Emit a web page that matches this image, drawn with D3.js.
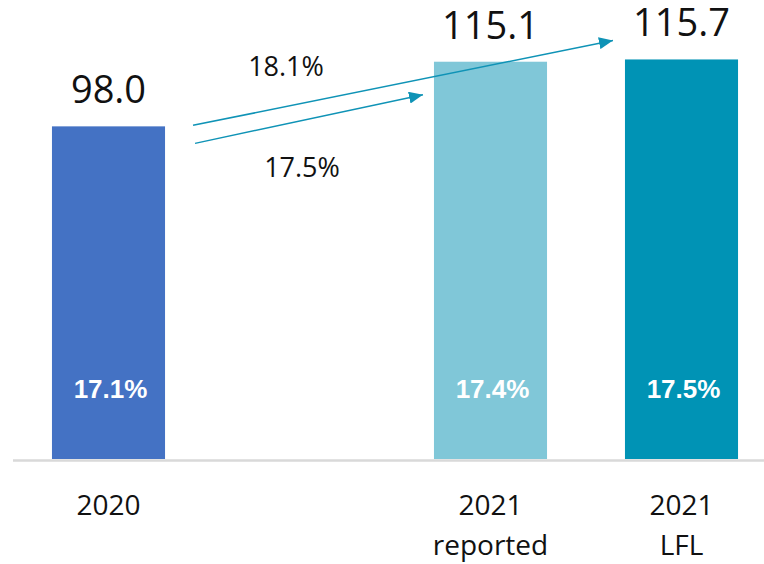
<!DOCTYPE html>
<html lang="en">

<head>
    <meta charset="UTF-8">
    <title>Revenue 2020 vs 2021</title>
    <script src="https://d3js.org/d3.v7.min.js"></script>
    <style>
        body {
            margin: 0;
            overflow: hidden;
            background-color: white;
        }

        .value-label {
            font-family: "Open Sans", sans-serif;
            font-size: 38px;
            fill: #111;
        }

        .cat-label {
            font-family: "Open Sans", sans-serif;
            font-size: 28px;
            fill: #111;
        }

        .margin-label {
            font-family: "Liberation Sans", Arial, sans-serif;
            font-weight: bold;
            font-size: 26px;
            fill: white;
        }

        .growth-label {
            font-family: "Open Sans", sans-serif;
            font-size: 27px;
            fill: #111;
        }
    </style>
</head>

<body>
    <svg id="chart"></svg>

    <script>
        // data
        var categories = ["2020", "gap", "2021 reported", "2021 LFL"];
        var catLines = { "2020": ["2020"], "2021 reported": ["2021", "reported"], "2021 LFL": ["2021", "LFL"] };
        var barCats = ["2020", "2021 reported", "2021 LFL"];
        var values = [98.0, 115.1, 115.7];
        var margins = ["17.1%", "17.4%", "17.5%"];
        var colors = ["#4472c4", "#80c7d8", "#0093b5"];
        // growth arrows: from 2020 to target
        var growthTargets = ["2021 LFL", "2021 reported"];
        var growthLabels = ["18.1%", "17.5%"];

        var width = 764, height = 564;
        var svg = d3.select("#chart").attr("width", width).attr("height", height);

        var x = d3.scaleBand()
            .domain(categories)
            .range([13, 777])
            .paddingInner(0.408)
            .paddingOuter(0.204);

        var y = d3.scaleLinear()
            .domain([10, 120])
            .range([459, 459 - 110 * 3.78]);

        var arrowColor = "#0f93b6";

        svg.append("defs").append("marker")
            .attr("id", "head")
            .attr("markerUnits", "userSpaceOnUse")
            .attr("viewBox", "0 0 14 12")
            .attr("refX", 14)
            .attr("refY", 6)
            .attr("markerWidth", 14)
            .attr("markerHeight", 12)
            .attr("orient", "auto")
            .append("path")
            .attr("d", "M0,0 L14,6 L0,12 Z")
            .attr("fill", arrowColor);

        // baseline
        svg.append("line")
            .attr("x1", 13).attr("x2", width)
            .attr("y1", 460.5).attr("y2", 460.5)
            .attr("stroke", "#d9d9d9")
            .attr("stroke-width", 2.5);

        // bars
        svg.selectAll(".bar")
            .data(values)
            .enter().append("rect")
            .attr("class", "bar")
            .attr("x", function (d, i) { return x(barCats[i]); })
            .attr("width", x.bandwidth())
            .attr("y", function (d) { return y(d); })
            .attr("height", function (d) { return y(10) - y(d); })
            .attr("fill", function (d, i) { return colors[i]; });

        // value labels
        svg.selectAll(".value-label")
            .data(values)
            .enter().append("text")
            .attr("class", "value-label")
            .attr("text-anchor", "middle")
            .attr("x", function (d, i) { return x(barCats[i]) + x.bandwidth() / 2; })
            .attr("y", function (d) { return y(d) - 23; })
            .text(function (d) { return d.toFixed(1); });

        // margin labels inside bars
        svg.selectAll(".margin-label")
            .data(margins)
            .enter().append("text")
            .attr("class", "margin-label")
            .attr("text-anchor", "middle")
            .attr("x", function (d, i) { return x(barCats[i]) + x.bandwidth() / 2 + 2; })
            .attr("y", 398)
            .text(function (d) { return d; });

        // category labels
        barCats.forEach(function (c) {
            var t = svg.append("text")
                .attr("class", "cat-label")
                .attr("text-anchor", "middle")
                .attr("x", x(c) + x.bandwidth() / 2)
                .attr("y", 515);
            catLines[c].forEach(function (line, j) {
                t.append("tspan")
                    .attr("x", x(c) + x.bandwidth() / 2)
                    .attr("dy", j === 0 ? 0 : 40)
                    .text(line);
            });
        });

        // growth arrows
        var startX = x("2020") + x.bandwidth() + 28;
        var arrows = [
            { x1: startX, y1: y(values[0]) - 1, x2: x(growthTargets[0]) - 12, y2: y(values[2]) - 19, lx: 286, ly: 76 },
            { x1: startX + 2, y1: y(values[0]) + 17, x2: x(growthTargets[1]) - 11, y2: y(values[1]) + 33, lx: 302, ly: 177 }
        ];

        svg.selectAll(".arrow")
            .data(arrows)
            .enter().append("line")
            .attr("class", "arrow")
            .attr("x1", function (d) { return d.x1; })
            .attr("y1", function (d) { return d.y1; })
            .attr("x2", function (d) { return d.x2; })
            .attr("y2", function (d) { return d.y2; })
            .attr("stroke", arrowColor)
            .attr("stroke-width", 1.5)
            .attr("marker-end", "url(#head)");

        svg.selectAll(".growth-label")
            .data(arrows)
            .enter().append("text")
            .attr("class", "growth-label")
            .attr("text-anchor", "middle")
            .attr("x", function (d) { return d.lx; })
            .attr("y", function (d) { return d.ly; })
            .text(function (d, i) { return growthLabels[i]; });
    </script>
</body>

</html>
